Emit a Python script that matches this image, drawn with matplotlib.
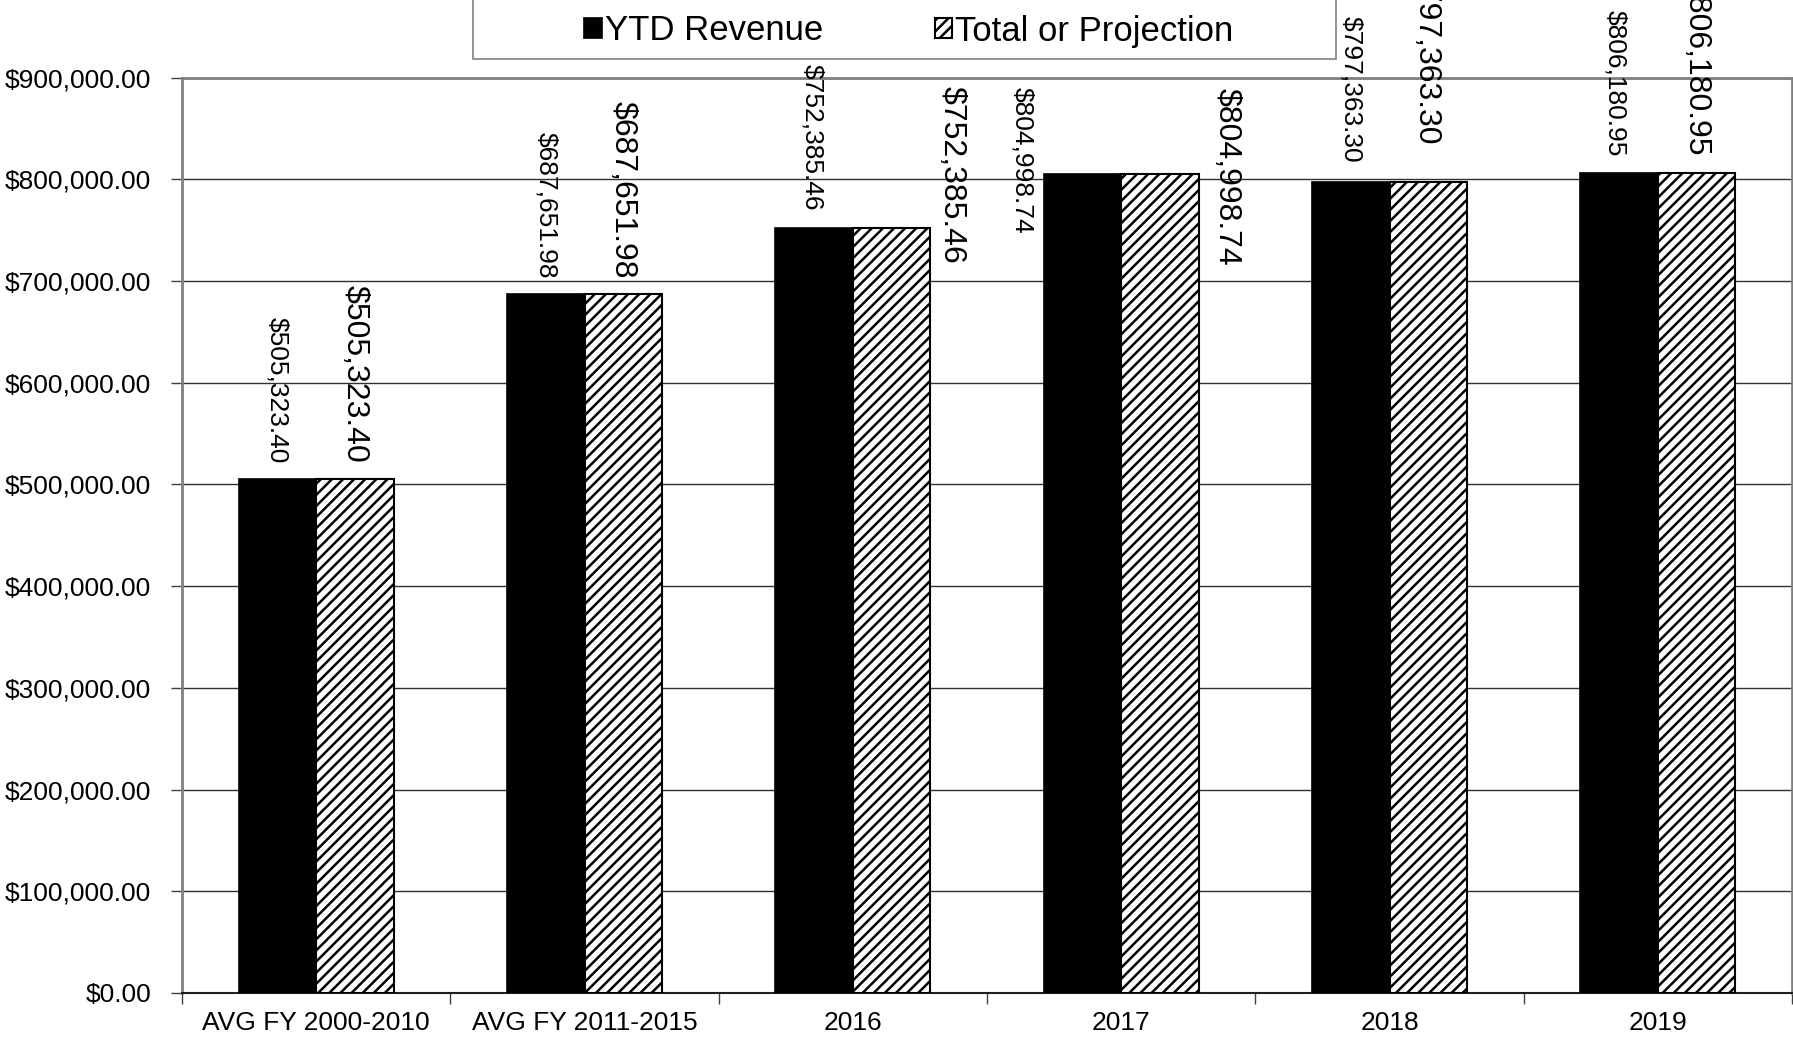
import matplotlib
matplotlib.use('Agg')

import numpy
import matplotlib.pyplot as plt
from matplotlib.patches import Rectangle
from matplotlib.ticker import FuncFormatter, FixedLocator

plt.rcParams['font.family'] = ['Liberation Sans', 'DejaVu Sans']
plt.rcParams['hatch.linewidth'] = 1.8

categories = ['AVG FY 2000-2010', 'AVG FY 2011-2015', '2016', '2017', '2018', '2019']
ytd_revenue = [505323.40, 687651.98, 752385.46, 804998.74, 797363.30, 806180.95]
total_projection = [505323.40, 687651.98, 752385.46, 804998.74, 797363.30, 806180.95]
series_names = ['YTD Revenue', 'Total or Projection']

# where the labels sit, in pixels relative to the top middle of their bar
ytd_label_offsets = [(0, 16), (0, 15), (-2, 17), (-60, -59), (0, 19), (-4, 17)]
tot_label_offsets = [(0, 16), (-1, 15), (60, -36), (67, -92), (-2, 37), (0, 17)]

W, H = 1793, 1041
fig = plt.figure(figsize=(W / 100, H / 100), dpi=100)
ax = fig.add_axes([182 / W, 1 - 993 / H, (1792 - 182) / W, (993 - 77.5) / H])

ind = numpy.arange(len(categories))
width = 0.289

r1 = ax.bar(ind - width / 2, ytd_revenue, width, color='black', edgecolor='black', linewidth=1.2, zorder=3)
r2 = ax.bar(ind + width / 2, total_projection, width, color='white', edgecolor='black', hatch='///',
            linewidth=1.5, zorder=3)

def money(v, pos=None):
    return '${:,.2f}'.format(v)

for i in range(len(categories)):
    dx, dy = ytd_label_offsets[i]
    ax.annotate(money(ytd_revenue[i]), (ind[i] - width / 2, ytd_revenue[i]), xytext=(dx, dy),
                textcoords='offset pixels', rotation=270, ha='center', va='bottom',
                fontsize=19, annotation_clip=False, zorder=5)
    dx, dy = tot_label_offsets[i]
    ax.annotate(money(total_projection[i]), (ind[i] + width / 2, total_projection[i]), xytext=(dx, dy),
                textcoords='offset pixels', rotation=270, ha='center', va='bottom',
                fontsize=23, annotation_clip=False, zorder=5)

ax.set_xlim(-0.5, len(categories) - 0.5)
ax.set_ylim(0, 900000)
ax.set_yticks(numpy.arange(0, 900001, 100000))
ax.yaxis.set_major_formatter(FuncFormatter(money))
ax.set_xticks(ind)
ax.set_xticklabels(categories)
ax.xaxis.set_minor_locator(FixedLocator(numpy.arange(-0.5, len(categories), 1.0)))
ax.tick_params(axis='x', which='major', length=0, pad=13, labelsize=19)
ax.tick_params(axis='x', which='minor', length=8, width=1, color='#404040', direction='out')
ax.tick_params(axis='y', length=8, width=1, color='#404040', pad=14, labelsize=19)

ax.grid(axis='y', color='#303030', linewidth=1, zorder=0)
ax.set_axisbelow(True)
for s in ['top', 'left', 'right']:
    ax.spines[s].set_color('#808080')
    ax.spines[s].set_linewidth(2)
ax.spines['bottom'].set_color('#202020')
ax.spines['bottom'].set_linewidth(1.5)

# legend box on top
fig.patches.append(Rectangle((473 / W, 1 - 59 / H), (1336 - 473) / W, 70 / H, transform=fig.transFigure,
                             facecolor='white', edgecolor='#808080', linewidth=1.2, zorder=10))
leg = fig.legend([r1, r2], series_names, loc='center', bbox_to_anchor=(909 / W, 1 - 31 / H), ncol=2,
                 frameon=False, fontsize=25, handlelength=0.5, handleheight=0.5, handletextpad=0.1,
                 columnspacing=3.2, borderpad=0)
leg.set_zorder(11)

plt.savefig('out.png', dpi=100)
